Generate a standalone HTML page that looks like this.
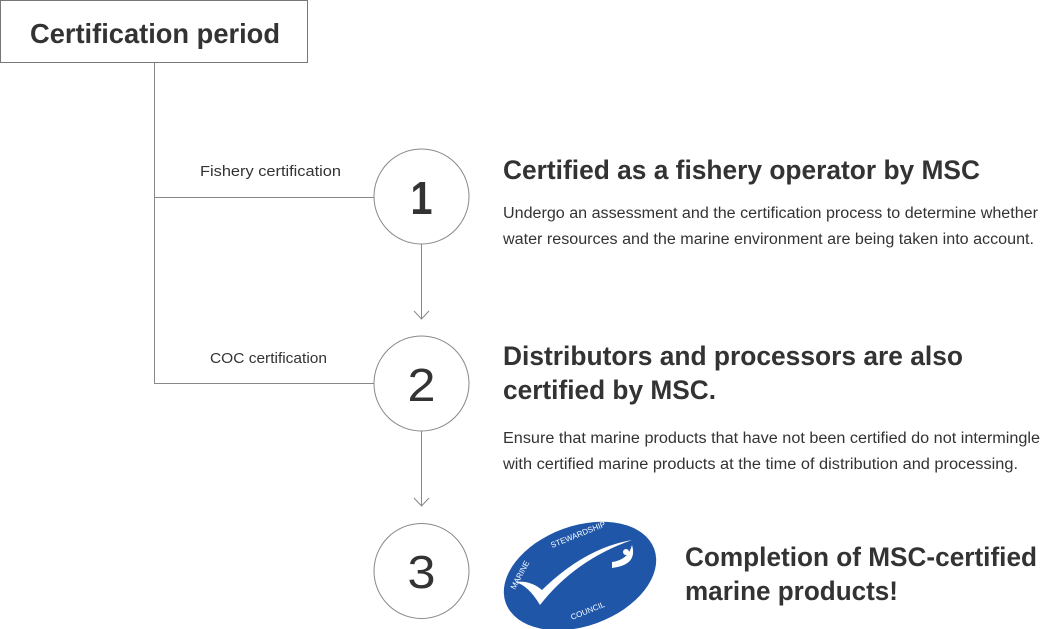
<!DOCTYPE html>
<html><head><meta charset="utf-8"><style>
html,body{margin:0;padding:0;background:#fff;}
svg{display:block}
text{font-family:"Liberation Sans",sans-serif;fill:#333;}
</style></head><body>
<svg width="1048" height="629" viewBox="0 0 1048 629">
<rect x="0.5" y="0.5" width="307" height="62" fill="#fff" stroke="#777" stroke-width="1"/>
<text x="30" y="43" font-size="28" font-weight="bold" textLength="250" lengthAdjust="spacingAndGlyphs">Certification period</text>
<g stroke="#888" stroke-width="1" fill="none">
<line x1="154.5" y1="63" x2="154.5" y2="383.5"/>
<line x1="154" y1="197.5" x2="374" y2="197.5"/>
<line x1="154" y1="383.5" x2="374" y2="383.5"/>
<circle cx="421.5" cy="196.5" r="47.5"/>
<circle cx="421.5" cy="383.5" r="47.5"/>
<circle cx="421.5" cy="571" r="47.5"/>
<line x1="421.5" y1="244" x2="421.5" y2="319"/>
<polyline points="414,311 421.5,319 429,311"/>
<line x1="421.5" y1="431" x2="421.5" y2="506"/>
<polyline points="414,498 421.5,506 429,498"/>
</g>
<text x="200" y="176" font-size="15" textLength="141" lengthAdjust="spacingAndGlyphs">Fishery certification</text>
<text x="210" y="363" font-size="15" textLength="117" lengthAdjust="spacingAndGlyphs">COC certification</text>
<text x="421.5" y="214" text-anchor="middle" font-size="46" font-weight="bold" textLength="22" lengthAdjust="spacingAndGlyphs">1</text>
<text x="421.5" y="401" text-anchor="middle" font-size="46" textLength="28" lengthAdjust="spacingAndGlyphs">2</text>
<text x="421.5" y="588" text-anchor="middle" font-size="46" textLength="28" lengthAdjust="spacingAndGlyphs">3</text>
<text x="503" y="179" font-size="27" font-weight="bold" textLength="477" lengthAdjust="spacingAndGlyphs">Certified as a fishery operator by MSC</text>
<text x="503" y="218" font-size="15.5" textLength="535" lengthAdjust="spacingAndGlyphs">Undergo an assessment and the certification process to determine whether</text>
<text x="503" y="244" font-size="15.5" textLength="531" lengthAdjust="spacingAndGlyphs">water resources and the marine environment are being taken into account.</text>
<text x="503" y="365" font-size="27" font-weight="bold" textLength="460" lengthAdjust="spacingAndGlyphs">Distributors and processors are also</text>
<text x="503" y="399" font-size="27" font-weight="bold" textLength="213" lengthAdjust="spacingAndGlyphs">certified by MSC.</text>
<text x="503" y="443" font-size="15.5" textLength="537" lengthAdjust="spacingAndGlyphs">Ensure that marine products that have not been certified do not intermingle</text>
<text x="503" y="469" font-size="15.5" textLength="515" lengthAdjust="spacingAndGlyphs">with certified marine products at the time of distribution and processing.</text>
<text x="685" y="566" font-size="27" font-weight="bold" textLength="352" lengthAdjust="spacingAndGlyphs">Completion of MSC-certified</text>
<text x="685" y="600" font-size="27" font-weight="bold" textLength="213" lengthAdjust="spacingAndGlyphs">marine products!</text>
<g>
<ellipse cx="580" cy="576" rx="79" ry="50" transform="rotate(-20 580 576)" fill="#1f56a8"/>
<path d="M515 582 Q528 585 540 605 Q575 560 632 540 Q585 548 542 590 Q530 580 515 582Z" fill="#fff"/>
<path d="M612 562 Q628 560 632 545 Q638 565 612 568Z" fill="#fff"/>
<circle cx="626" cy="552" r="3" fill="#fff"/>
<text x="0" y="0" font-size="8" style="fill:#fff" transform="translate(515 590) rotate(-62)">MARINE</text>
<text x="0" y="0" font-size="8" style="fill:#fff" transform="translate(552 548) rotate(-22)">STEWARDSHIP</text>
<text x="0" y="0" font-size="8" style="fill:#fff" transform="translate(572 620) rotate(-22)">COUNCIL</text>
</g>
</svg>
</body></html>
